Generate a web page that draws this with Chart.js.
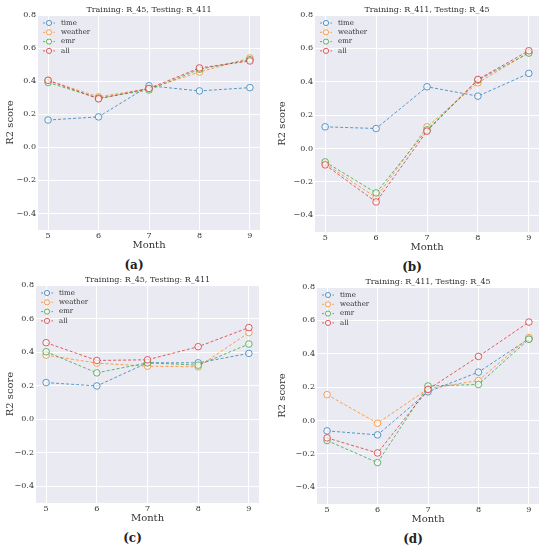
<!DOCTYPE html>
<html>
<head>
<meta charset="utf-8">
<script src="https://cdn.jsdelivr.net/npm/chart.js@4.4.0/dist/chart.umd.min.js"></script>
<style>
  body { margin: 0; background: #fff; }
  #wrap { position: relative; width: 545px; height: 550px; }
  #wrap canvas { position: absolute; }
  .cap { position: absolute; font: bold 12px 'DejaVu Serif', serif; color: #222; transform: translate(-50%, -50%); }
</style>
</head>
<body>
<div id="wrap"></div>
<script>
// ── Data ─────────────────────────────────────────────
const months = [5, 6, 7, 8, 9];
const yTicks = [-0.4, -0.2, 0.0, 0.2, 0.4, 0.6, 0.8];
const seriesNames = ['time', 'weather', 'emr', 'all'];
const titles = [
    'Training: R_45, Testing: R_411',
    'Training: R_411, Testing: R_45',
    'Training: R_45, Testing: R_411',
    'Training: R_411, Testing: R_45',
];
const captions = ['(a)', '(b)', '(c)', '(d)'];

// panel (a)
const timeA    = [0.165, 0.184, 0.372, 0.341, 0.361];
const weatherA = [0.405, 0.305, 0.355, 0.455, 0.540];
const emrA     = [0.392, 0.297, 0.347, 0.472, 0.530];
const allA     = [0.405, 0.293, 0.356, 0.480, 0.522];
// panel (b)
const timeB    = [0.130, 0.120, 0.370, 0.314, 0.450];
const weatherB = [-0.090, -0.294, 0.130, 0.394, 0.575];
const emrB     = [-0.080, -0.266, 0.112, 0.410, 0.572];
const allB     = [-0.098, -0.320, 0.104, 0.414, 0.586];
// panel (c)
const timeC    = [0.218, 0.198, 0.336, 0.336, 0.392];
const weatherC = [0.382, 0.334, 0.316, 0.312, 0.516];
const emrC     = [0.402, 0.276, 0.336, 0.322, 0.448];
const allC     = [0.456, 0.350, 0.354, 0.432, 0.546];
// panel (d)
const timeD    = [-0.062, -0.086, 0.172, 0.290, 0.490];
const weatherD = [0.155, -0.016, 0.190, 0.240, 0.497];
const emrD     = [-0.120, -0.252, 0.207, 0.216, 0.487];
const allD     = [-0.104, -0.194, 0.186, 0.384, 0.590];

const panelSeries = [
    [timeA, weatherA, emrA, allA],
    [timeB, weatherB, emrB, allB],
    [timeC, weatherC, emrC, allC],
    [timeD, weatherD, emrD, allD],
];

// ── Layout / style ───────────────────────────────────
const colors = [
    'rgba(31, 119, 180, 0.72)',
    'rgba(255, 127, 14, 0.72)',
    'rgba(44, 160, 44, 0.72)',
    'rgba(214, 39, 40, 0.72)',
];
const serif = "'DejaVu Serif', serif";

// canvas position + plot area inside the canvas
const panels = [
    { x: 0,   y: 0,   w: 268, left: 38, top: 15, right: 260, bottom: 230 },
    { x: 272, y: 0,   w: 273, left: 43, top: 15, right: 267, bottom: 232 },
    { x: 0,   y: 275, w: 268, left: 36, top: 10, right: 259, bottom: 228 },
    { x: 272, y: 275, w: 273, left: 45, top: 12, right: 267, bottom: 229 },
];

const plotBg = {
    id: 'plotBg',
    beforeDraw(chart) {
        const a = chart.chartArea, ctx = chart.ctx;
        ctx.save();
        ctx.fillStyle = '#eaeaf2';
        ctx.fillRect(a.left, a.top, a.right - a.left, a.bottom - a.top);
        ctx.restore();
    }
};

// title centred over the plot area (matplotlib style)
const panelTitle = {
    id: 'panelTitle',
    afterDraw(chart, args, opts) {
        const a = chart.chartArea, ctx = chart.ctx;
        ctx.save();
        ctx.font = '8px ' + serif;
        ctx.fillStyle = '#333';
        ctx.textAlign = 'center';
        ctx.textBaseline = 'middle';
        ctx.fillText(opts.text, (a.left + a.right) / 2, a.top - 5);
        ctx.restore();
    }
};

// legend drawn inside the top-left corner of the plot
const innerLegend = {
    id: 'innerLegend',
    afterDatasetsDraw(chart) {
        const a = chart.chartArea, ctx = chart.ctx;
        ctx.save();
        ctx.font = '7px ' + serif;
        ctx.textBaseline = 'middle';
        chart.data.datasets.forEach((ds, i) => {
            const y = a.top + 8 + i * 9.3;
            const x0 = a.left + 5;
            ctx.strokeStyle = ds.borderColor;
            ctx.lineWidth = 1;
            ctx.setLineDash([2, 1.5]);
            ctx.beginPath();
            ctx.moveTo(x0, y);
            ctx.lineTo(x0 + 12, y);
            ctx.stroke();
            ctx.setLineDash([]);
            ctx.fillStyle = '#f4f4f8';
            ctx.beginPath();
            ctx.arc(x0 + 6, y, 2.6, 0, Math.PI * 2);
            ctx.fill();
            ctx.stroke();
            ctx.fillStyle = '#333';
            ctx.fillText(ds.label, x0 + 18, y);
        });
        ctx.restore();
    }
};

const wrap = document.getElementById('wrap');

panels.forEach((p, k) => {
    const xTitleH = 21;
    const h = p.bottom + xTitleH;
    const canvas = document.createElement('canvas');
    canvas.width = p.w;
    canvas.height = h;
    canvas.style.left = p.x + 'px';
    canvas.style.top = p.y + 'px';
    wrap.appendChild(canvas);

    const cap = document.createElement('div');
    cap.className = 'cap';
    cap.textContent = captions[k];
    cap.style.left = (p.x + (p.left + p.right) / 2 - 15) + 'px';
    cap.style.top = (p.y + p.bottom + 35) + 'px';
    wrap.appendChild(cap);

    const datasets = panelSeries[k].map((vals, i) => ({
        label: seriesNames[i],
        data: months.map((m, j) => ({ x: m, y: vals[j] })),
        borderColor: colors[i],
        borderWidth: 1,
        borderDash: [3, 2],
        pointStyle: 'circle',
        pointRadius: 3.3,
        pointBorderWidth: 1,
        pointBorderColor: colors[i],
        pointBackgroundColor: 'rgba(248, 248, 252, 0.75)',
        tension: 0,
        order: seriesNames.length - i,
    }));

    new Chart(canvas.getContext('2d'), {
        type: 'line',
        data: { datasets },
        options: {
            responsive: false,
            animation: false,
            events: [],
            layout: {
                padding: { top: p.top, right: p.w - p.right, left: 0, bottom: 0 }
            },
            scales: {
                x: {
                    type: 'linear',
                    min: 4.8,
                    max: 9.2,
                    afterBuildTicks: (s) => { s.ticks = months.map(v => ({ value: v })); },
                    afterFit: (s) => { s.height = xTitleH; },
                    ticks: {
                        color: '#333',
                        font: { family: serif, size: 8 },
                        padding: 1,
                        maxRotation: 0,
                        callback: (v) => String(v),
                    },
                    grid: { color: '#ffffff', lineWidth: 1, drawTicks: false },
                    border: { display: false },
                    title: {
                        display: true,
                        text: 'Month',
                        color: '#333',
                        font: { family: serif, size: 10 },
                        padding: { top: 0, bottom: 0 },
                    },
                },
                y: {
                    min: -0.5,
                    max: 0.8,
                    afterBuildTicks: (s) => { s.ticks = yTicks.map(v => ({ value: v })); },
                    afterFit: (s) => { s.width = p.left; },
                    ticks: {
                        color: '#333',
                        font: { family: serif, size: 8 },
                        padding: 2,
                        callback: (v) => v.toFixed(1).replace('-', '\u2212'),
                    },
                    grid: { color: '#ffffff', lineWidth: 1, drawTicks: false },
                    border: { display: false },
                    title: {
                        display: true,
                        text: 'R2 score',
                        color: '#333',
                        font: { family: serif, size: 10 },
                        padding: { top: 4, bottom: 0 },
                    },
                },
            },
            plugins: {
                legend: { display: false },
                tooltip: { enabled: false },
                panelTitle: { text: titles[k] },
            },
        },
        plugins: [plotBg, innerLegend, panelTitle],
    });
});
</script>
</body>
</html>
